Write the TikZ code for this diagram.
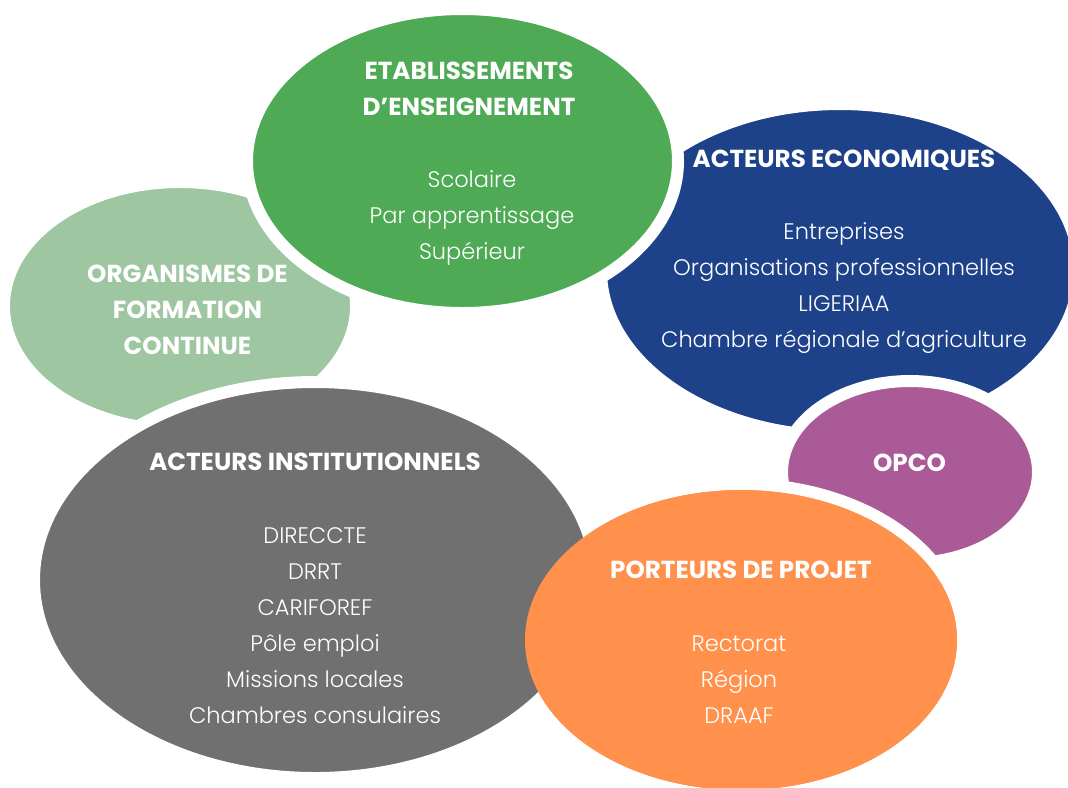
\documentclass[tikz,border=0pt]{standalone}
\usepackage{fontspec}
\setmainfont{Poppins}
\newfontfamily\legerfont{Poppins Light}
\usetikzlibrary{shapes.geometric,positioning}

\definecolor{vertclair}{HTML}{9DC6A1}
\definecolor{vertfonce}{HTML}{4EAA55}
\definecolor{bleuroi}{HTML}{1E428A}
\definecolor{violet}{HTML}{AA5A96}
\definecolor{grisfonce}{HTML}{707070}
\definecolor{orangevif}{HTML}{FF914D}

\begin{document}
\begin{tikzpicture}
\tikzstyle{bulle}=[ellipse,draw=white,line width=0.12cm,inner sep=0pt]
\tikzstyle{titre}=[text=white,font=\bfseries\fontsize{7.0}{10.24}\selectfont,align=center,anchor=base,inner sep=0pt]
\tikzstyle{liste}=[text=white,font=\legerfont\fontsize{6.4}{10.24}\selectfont,align=center,anchor=base,inner sep=0pt]
\useasboundingbox (0,0) rectangle (10.68,-7.87);
\fill[white] (0,0) rectangle (10.68,-7.87);
% bulles
\node [bulle,fill=vertclair,minimum width=3.52cm,minimum height=2.48cm] (formation) at (1.80,-3.06) {};
\node [bulle,fill=bleuroi,minimum width=4.78cm,minimum height=3.32cm] (economiques) at (8.40,-2.70) {};
\node [bulle,fill=vertfonce,minimum width=4.31cm,minimum height=3.04cm] (etablissements) at (4.625,-1.61) {};
\node [bulle,fill=violet,minimum width=2.56cm,minimum height=1.82cm] (opco) at (9.10,-4.72) {};
\node [bulle,fill=orangevif,minimum width=4.44cm,minimum height=3.12cm] (porteurs) at (7.41,-6.40) {};
\node [bulle,fill=grisfonce,minimum width=5.62cm,minimum height=3.96cm] (institutionnels) at (3.15,-5.80) {};
\fill[orangevif] (porteurs.center) ellipse [x radius=2.16cm,y radius=1.50cm];
% textes (ancre sur la derniere ligne)
\node [titre] (t-formation) at (1.875,-3.54) {ORGANISMES DE\\FORMATION\\CONTINUE};
\node [titre] (t-etablissements) at (4.69,-1.15) {ETABLISSEMENTS\\D’ENSEIGNEMENT};
\node [liste] (l-etablissements) at (4.72,-2.59) {Scolaire\\Par apprentissage\\Supérieur};
\node [titre] (t-economiques) at (8.44,-1.67) {ACTEURS ECONOMIQUES};
\node [liste] (l-economiques) at (8.44,-3.47) {Entreprises\\Organisations professionnelles\\LIGERIAA\\Chambre régionale d’agriculture};
\node [titre] (t-opco) at (9.095,-4.71) {OPCO};
\node [titre] (t-institutionnels) at (3.15,-4.70) {ACTEURS INSTITUTIONNELS};
\node [liste] (l-institutionnels) at (3.15,-7.23) {DIRECCTE\\DRRT\\CARIFOREF\\Pôle emploi\\Missions locales\\Chambres consulaires};
\node [titre] (t-porteurs) at (7.41,-5.78) {PORTEURS DE PROJET};
\node [liste] (l-porteurs) at (7.39,-7.23) {Rectorat\\Région\\DRAAF};
\end{tikzpicture}
\end{document}
